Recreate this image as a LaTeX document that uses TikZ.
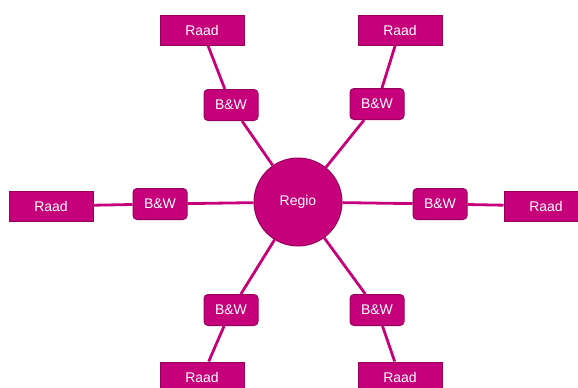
\documentclass[tikz,border=0pt]{standalone}
\usepackage{fontspec}
\setmainfont{Liberation Sans}
\usetikzlibrary{positioning}
\definecolor{regiomagenta}{HTML}{C6007A}
\definecolor{regiodark}{HTML}{98005E}

\begin{document}
\begin{tikzpicture}[
x=1pt,y=-1pt,
raad/.style={draw=regiodark,fill=regiomagenta,text=white,line width=1pt,
minimum width=84pt,minimum height=30pt,font=\fontsize{14}{16}\selectfont},
bw/.style={draw=regiodark,fill=regiomagenta,text=white,line width=1pt,
rounded corners=4pt,minimum width=54pt,minimum height=31pt,
font=\fontsize{14}{16}\selectfont},
regio/.style={circle,draw=regiodark,fill=regiomagenta,text=white,line width=1pt,
minimum size=88pt,font=\fontsize{14}{16}\selectfont},
link/.style={draw=regiomagenta,line width=2.8pt}
]
\useasboundingbox (0,0) rectangle (578,388);
\node[regio] (regio) at (298,202) {Regio};
% B&W ring
\node[bw] (bwtl) at (231,105) {B\&W};
\node[bw] (bwtr) at (377,104) {B\&W};
\node[bw] (bwl)  at (160,204) {B\&W};
\node[bw] (bwr)  at (440,204) {B\&W};
\node[bw] (bwbl) at (231,310) {B\&W};
\node[bw] (bwbr) at (377,310) {B\&W};
% Raad ring
\node[raad] (raadtl) at (202,30)  {Raad};
\node[raad] (raadtr) at (400,30)  {Raad};
\node[raad] (raadl)  at (51,206)  {Raad};
\node[raad] (raadr)  at (546,206) {Raad};
\node[raad] (raadbl) at (202,377) {Raad};
\node[raad] (raadbr) at (400,377) {Raad};

\foreach \b/\r in {bwtl/raadtl,bwtr/raadtr,bwl/raadl,bwr/raadr,bwbl/raadbl,bwbr/raadbr}{
  \draw[link] (regio) -- (\b);
  \draw[link] (\b) -- (\r);
}
\end{tikzpicture}
\end{document}
